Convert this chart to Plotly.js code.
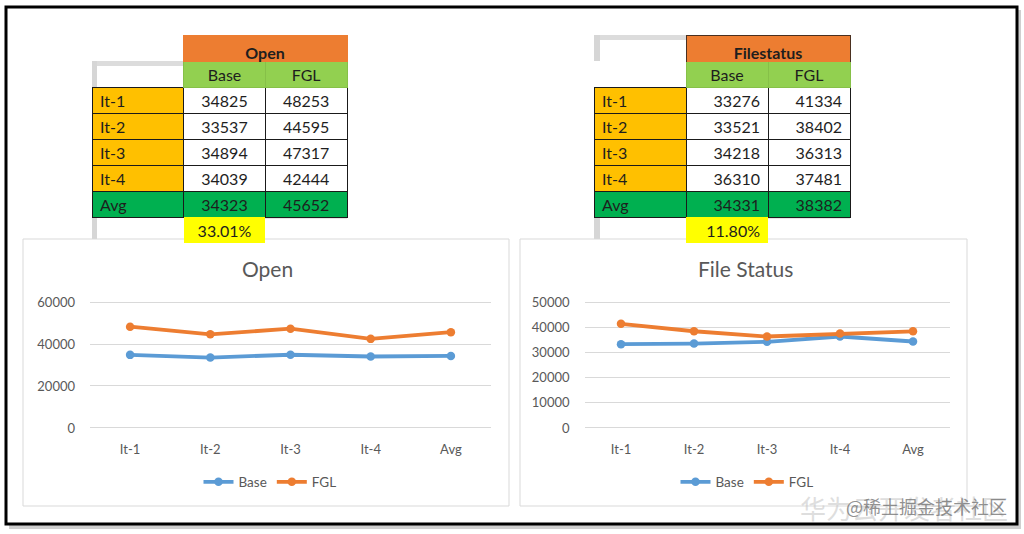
<!DOCTYPE html>
<html><head><meta charset="utf-8">
<script src="https://cdn.plot.ly/plotly-3.0.1.min.js"></script>
<style>html,body{margin:0;padding:0;background:#fff}</style>
</head><body><div id="chart" style="width:1024px;height:534px"></div>
<script>
// ---- data ----
const categories = ['It-1', 'It-2', 'It-3', 'It-4', 'Avg'];
const seriesNames = ['Base', 'FGL'];
const openBase = [34825, 33537, 34894, 34039, 34323];
const openFGL  = [48253, 44595, 47317, 42444, 45652];
const fsBase   = [33276, 33521, 34218, 36310, 34331];
const fsFGL    = [41334, 38402, 36313, 37481, 38382];
const openGain = '33.01%';
const fsGain   = '11.80%';
const openTitle = 'Open';
const fsTitle = 'File Status';
const openHeader = 'Open';
const fsHeader = 'Filestatus';
const openYTicks = [0, 20000, 40000, 60000];
const fsYTicks = [0, 10000, 20000, 30000, 40000, 50000];

// ---- styling ----
const W = 1024, H = 534;
const px = x => x / W;
const py = y => 1 - y / H;
const FONT = 'Lato, "Open Sans", sans-serif';
const BLUE = '#5B9BD5', ORANGE = '#ED7D31';
const CELL_OR = '#FFC000', CELL_GR = '#00B050', HEAD_GR = '#92D050', YEL = '#FFFF00';
const CLEAR = 'rgba(0,0,0,0)';
const TXT = '#1e1e1e';

function mainTable(x0, x1, top, base, fgl, gain, numAlign) {
  const labelCol = categories.concat(['']);
  const baseCol = base.map(String).concat([gain]);
  const fglCol = fgl.map(String).concat(['']);
  const fillFor = (normal, last) => categories.map(c => c === 'Avg' ? CELL_GR : normal).concat([last]);
  const lineCol = categories.map(() => '#1a1a1a').concat([CLEAR]);
  return {
    type: 'table',
    domain: {x: [px(x0), px(x1)], y: [py(top + 26 * 7 + 2), py(top)]},
    columnwidth: [92, 82, 82],
    header: {
      values: ['', seriesNames[0], seriesNames[1]],
      fill: {color: [CLEAR, HEAD_GR, HEAD_GR]},
      line: {color: [CLEAR, '#86c048', '#86c048'], width: 1},
      height: 26, align: 'center',
      font: {family: FONT, size: 16, color: TXT}
    },
    cells: {
      values: [labelCol, baseCol, fglCol],
      fill: {color: [fillFor(CELL_OR, CLEAR), fillFor('#ffffff', YEL), fillFor('#ffffff', CLEAR)]},
      line: {color: [lineCol, lineCol, lineCol], width: 1},
      height: 26,
      align: ['left', numAlign, numAlign],
      font: {family: FONT, size: 16, color: TXT}
    }
  };
}
function headTable(x0, x1, top, text, lineColor) {
  return {
    type: 'table',
    domain: {x: [px(x0), px(x1)], y: [py(top + 28), py(top)]},
    header: {
      values: ['<b>' + text + '</b>'],
      fill: {color: ORANGE},
      line: {color: lineColor, width: 1},
      height: 26, align: 'center',
      font: {family: FONT, size: 16, color: TXT}
    },
    cells: {values: [[]], height: 1, line: {color: CLEAR}, fill: {color: CLEAR}}
  };
}
function lineTrace(y, name, color, xa, ya, legend) {
  return {
    type: 'scatter', mode: 'lines+markers', x: categories, y: y, name: name,
    xaxis: xa, yaxis: ya, legend: legend, showlegend: true,
    line: {color: color, width: 3.8}, marker: {color: color, size: 8.5}
  };
}

const traces = [
  mainTable(92, 347, 61, openBase, openFGL, openGain, 'center'),
  headTable(183, 347, 35, openHeader, ORANGE),
  mainTable(594, 850, 61, fsBase, fsFGL, fsGain, 'right'),
  headTable(686, 850, 35, fsHeader, '#4a3020'),
  lineTrace(openBase, seriesNames[0], BLUE, 'x', 'y', 'legend'),
  lineTrace(openFGL, seriesNames[1], ORANGE, 'x', 'y', 'legend'),
  lineTrace(fsBase, seriesNames[0], BLUE, 'x2', 'y2', 'legend2'),
  lineTrace(fsFGL, seriesNames[1], ORANGE, 'x2', 'y2', 'legend2')
];

const tickFont = {family: FONT, size: 13, color: '#595959'};
function xAxis(d0, d1, anchor) {
  return {domain: [px(d0), px(d1)], anchor: anchor, type: 'category', range: [-0.5, 4.5],
    showgrid: false, zeroline: false, showline: false, ticks: '', ticklabelstandoff: 10,
    tickfont: tickFont, fixedrange: true};
}
function yAxis(ticks, anchor) {
  const top = ticks[ticks.length - 1];
  const pad = top * 0.016;
  return {domain: [py(430), py(300)], anchor: anchor, range: [ticks[0] - pad, top + pad],
    tickmode: 'array', tickvals: ticks, tickformat: 'd', showgrid: true, gridcolor: '#D9D9D9',
    gridwidth: 1, zeroline: false, showline: false, ticks: '', ticklabelstandoff: 14,
    tickfont: tickFont, fixedrange: true};
}
const legendBase = {orientation: 'h', xanchor: 'center', yanchor: 'middle', y: py(482),
  font: {family: FONT, size: 13.5, color: '#595959'}, bgcolor: CLEAR, itemwidth: 30, tracegroupgap: 0};

const gray = (x0, y0, x1, y1, c) => ({type: 'rect', xref: 'paper', yref: 'paper', layer: 'below',
  x0: px(x0), x1: px(x1), y0: py(y1), y1: py(y0), fillcolor: c, line: {width: 0}});

const layout = {
  width: W, height: H, margin: {l: 0, r: 0, t: 0, b: 0},
  paper_bgcolor: '#ffffff', plot_bgcolor: CLEAR,
  font: {family: FONT},
  xaxis: xAxis(90, 491, 'y'), yaxis: yAxis(openYTicks, 'x'),
  xaxis2: xAxis(584.5, 949.5, 'y2'), yaxis2: yAxis(fsYTicks, 'x2'),
  legend: Object.assign({}, legendBase, {x: px(270)}),
  legend2: Object.assign({}, legendBase, {x: px(747)}),
  shapes: [
    gray(9, 10, 1021, 529, '#cfcfcf'),
    {type: 'rect', xref: 'paper', yref: 'paper', layer: 'below', x0: px(6), x1: px(1017), y0: py(524), y1: py(7),
      fillcolor: '#ffffff', line: {color: '#000000', width: 3}},
    // table shadows
    gray(92, 61, 183, 66, '#dcdcdc'), gray(92, 61, 97, 87, '#d6d6d6'),
    gray(92, 215, 97, 240, '#d6d6d6'), gray(265, 215, 347, 219, '#e6e6e6'),
    gray(594, 35, 686, 40, '#dcdcdc'), gray(594, 35, 600, 61, '#d6d6d6'),
    gray(594, 215, 600, 240, '#d6d6d6'), gray(768, 215, 850, 219, '#e6e6e6'),
    // chart boxes
    {type: 'rect', xref: 'paper', yref: 'paper', layer: 'below', x0: px(23), x1: px(509), y0: py(506), y1: py(239),
      fillcolor: '#ffffff', line: {color: '#D9D9D9', width: 1}},
    {type: 'rect', xref: 'paper', yref: 'paper', layer: 'below', x0: px(520), x1: px(967), y0: py(506), y1: py(239),
      fillcolor: '#ffffff', line: {color: '#D9D9D9', width: 1}}
  ],
  annotations: [
    {text: openTitle, xref: 'paper', yref: 'paper', x: px(267), y: py(268), showarrow: false,
      xanchor: 'center', yanchor: 'middle', font: {family: FONT, size: 21, color: '#595959'}},
    {text: fsTitle, xref: 'paper', yref: 'paper', x: px(745), y: py(268), showarrow: false,
      xanchor: 'center', yanchor: 'middle', font: {family: FONT, size: 21, color: '#595959'}},
    {text: '华为云开发者社区', xref: 'paper', yref: 'paper', x: px(1010), y: py(507), showarrow: false,
      xanchor: 'right', yanchor: 'middle', font: {family: '"Noto Sans CJK SC", sans-serif', size: 26, color: 'rgba(200,200,200,0.6)'}},
    {text: '@稀土掘金技术社区', xref: 'paper', yref: 'paper', x: px(1009), y: py(506), showarrow: false,
      xanchor: 'right', yanchor: 'middle', font: {family: '"Noto Sans CJK SC", sans-serif', size: 18, color: 'rgba(110,110,110,0.75)'}}
  ]
};

Plotly.newPlot('chart', traces, layout, {displayModeBar: false, staticPlot: true});
</script></body></html>
